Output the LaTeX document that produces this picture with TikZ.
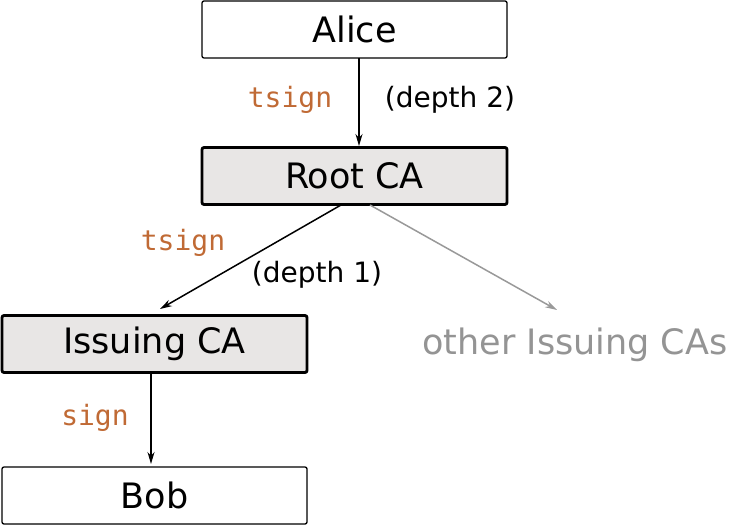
\documentclass[tikz,border=0pt]{standalone}
\usepackage{fontspec}
\setmainfont{DejaVu Sans}
\newfontfamily\lblmono{DejaVu Sans Mono}
\usetikzlibrary{arrows.meta}
\definecolor{lbl}{HTML}{C06A35}
\definecolor{boxfill}{HTML}{E8E6E5}
\begin{document}
\begin{tikzpicture}[x=1pt,y=-1pt,
  box/.style={draw,rounded corners=2pt,minimum width=305pt,minimum height=57pt,inner sep=0pt,font=\fontsize{35}{40}\selectfont},
  ca/.style={box,fill=boxfill,line width=2.8pt},
  plain/.style={box,fill=white,line width=1.3pt},
  arr/.style={-{Stealth[length=12pt,width=7pt]},line width=1.5pt},
  tl/.style={text=lbl,font=\lblmono\fontsize{28}{32}\selectfont},
  dl/.style={font=\fontsize{28}{32}\selectfont}]
\useasboundingbox (0,0) rectangle (730,526);
\node[plain] (alice) at (354.5,29.5) {Alice};
\node[ca] (root) at (354.5,176) {Root CA};
\node[ca] (issuing) at (154.5,344) {Issuing CA};
\node[plain] (bob) at (154.5,495.5) {Bob};
\node[text=black!42,font=\fontsize{35}{40}\selectfont] (others) at (575,345) {other Issuing CAs};
\coordinate (a1) at (359,58); \coordinate (a2) at (359,146);
\coordinate (r1) at (341,205); \coordinate (r2) at (160,309);
\coordinate (g1) at (370,205); \coordinate (g2) at (557,310);
\coordinate (i1) at (151,373); \coordinate (i2) at (151,464);
\draw[arr] (a1) -- (a2);
\draw[arr] (r1) -- (r2);
\draw[arr,black!40] (g1) -- (g2);
\draw[arr] (i1) -- (i2);
\node[tl] (t1) at (290,100) {tsign};
\node[dl] (d2) at (450,100) {(depth 2)};
\node[tl] (t2) at (183,243) {tsign};
\node[dl] (d1) at (317,275) {(depth 1)};
\node[tl] (s) at (95,418) {sign};
\end{tikzpicture}
\end{document}
